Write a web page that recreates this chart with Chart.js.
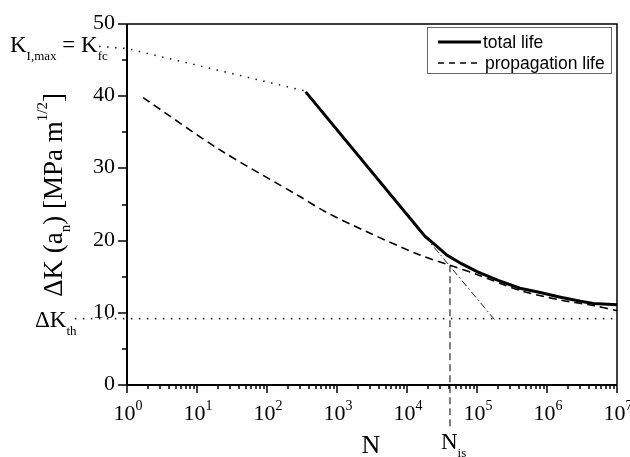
<!DOCTYPE html>
<html>
<head>
<meta charset="utf-8">
<script src="https://cdn.jsdelivr.net/npm/chart.js@4"></script>
<style>
  html, body { margin: 0; padding: 0; background: #fff; }
  canvas { display: block; }
</style>
</head>
<body>
<canvas id="cnvLife" width="630" height="457"></canvas>
<script>
// curves: N (cycles) and delta K [MPa m^1/2]
const totalN = [357, 18000, 26000, 37000, 60000, 100000, 200000, 410000, 800000, 1500000, 3000000, 4600000, 10000000]
const totalK = [40.6, 20.6, 19.3, 18.0, 16.8, 15.7, 14.5, 13.4, 12.8, 12.2, 11.6, 11.3, 11.1]

const propN = [1.7, 21, 295, 680, 2630, 15300, 41100, 100000, 410000, 1500000, 4600000, 10000000]
const propK = [39.8, 32.6, 26.1, 24.0, 21.25, 18.0, 16.6, 15.3, 13.1, 11.8, 11.0, 10.3]

// K_I,max = K_fc line, threshold line, extension of the steep part, N_is marker
const kmaxN = [0.4, 1, 357]
const kmaxK = [46.9, 46.6, 40.7]
const thN = [0.18, 10000000]
const thK = [9.2, 9.2]
const steepN = [18000, 180000]
const steepK = [20.6, 9.0]
const nisN = [41100, 41100]
const nisK = [16.6, -5.9]

const xTickExps = [0, 1, 2, 3, 4, 5, 6, 7]
const yTicks = [0, 10, 20, 30, 40, 50]
const yMinor = [5, 15, 25, 35, 45]

const serif = '"Liberation Serif", "Times New Roman", serif'
const sans = '"Liberation Sans", Arial, sans-serif'

function pts(xs, ys){
    return xs.map((x, i) => ({x: x, y: ys[i]}))
}

// draws text made of pieces [text, font, dy]
function rich(ctx, parts, x, y, align){
    let w = 0
    parts.forEach(p => { ctx.font = p[1]; w += ctx.measureText(p[0]).width })
    let cx = x
    if(align == 'center') cx = x - w / 2
    if(align == 'right') cx = x - w
    parts.forEach(p => {
        ctx.font = p[1]
        ctx.fillText(p[0], cx, y + (p[2] || 0))
        cx += ctx.measureText(p[0]).width
    })
}

const framePlugin = {
    id: 'frame',
    afterDatasetsDraw(chart){
        const ctx = chart.ctx
        const a = chart.chartArea
        const xs = chart.scales.x
        const ys = chart.scales.y
        ctx.save()
        ctx.strokeStyle = '#000'
        ctx.fillStyle = '#000'
        ctx.setLineDash([])

        // top and right border
        ctx.lineWidth = 1.5
        ctx.beginPath()
        ctx.moveTo(a.left, a.top); ctx.lineTo(a.right, a.top); ctx.lineTo(a.right, a.bottom)
        ctx.stroke()
        // axes
        ctx.lineWidth = 2
        ctx.beginPath()
        ctx.moveTo(a.left, a.top); ctx.lineTo(a.left, a.bottom); ctx.lineTo(a.right, a.bottom)
        ctx.stroke()

        // y ticks
        ctx.lineWidth = 1.5
        ctx.textAlign = 'left'
        ctx.textBaseline = 'alphabetic'
        yTicks.forEach(v => {
            let y = Math.round(ys.getPixelForValue(v))
            ctx.beginPath(); ctx.moveTo(a.left - 9, y); ctx.lineTo(a.left, y); ctx.stroke()
            rich(ctx, [[String(v), '22px ' + serif]], a.left - 12, y + 5, 'right')
        })
        yMinor.forEach(v => {
            let y = Math.round(ys.getPixelForValue(v))
            ctx.beginPath(); ctx.moveTo(a.left - 5, y); ctx.lineTo(a.left, y); ctx.stroke()
        })

        // x ticks, decades and minor ones
        xTickExps.forEach(e => {
            let x = Math.round(xs.getPixelForValue(Math.pow(10, e)))
            ctx.beginPath(); ctx.moveTo(x, a.bottom); ctx.lineTo(x, a.bottom + 8); ctx.stroke()
            rich(ctx, [['10', '22px ' + serif], [String(e), '14px ' + serif, -10]], x + 1, a.bottom + 35, 'center')
            if(e < 7){
                for(let m = 2; m < 10; m++){
                    let xm = Math.round(xs.getPixelForValue(m * Math.pow(10, e)))
                    ctx.beginPath(); ctx.moveTo(xm, a.bottom); ctx.lineTo(xm, a.bottom + 4); ctx.stroke()
                }
            }
        })

        // axis titles
        rich(ctx, [['N', '26px ' + serif]], 371, 453, 'center')
        ctx.save()
        ctx.translate(62, 195)
        ctx.rotate(-Math.PI / 2)
        rich(ctx, [
            ['\u0394K (a', '27px ' + serif],
            ['n', '15px ' + serif, 8],
            [') [MPa m', '27px ' + serif],
            ['1/2', '15px ' + serif, -15],
            [']', '27px ' + serif]
        ], 0, 0, 'center')
        ctx.restore()

        // annotations
        rich(ctx, [
            ['K', '23px ' + serif], ['I,max', '13px ' + serif, 8],
            [' = K', '23px ' + serif], ['fc', '13px ' + serif, 8]
        ], 10, 52, 'left')
        rich(ctx, [['\u0394K', '23px ' + serif], ['th', '13px ' + serif, 8]], 35, 327, 'left')
        rich(ctx, [['N', '23px ' + serif], ['is', '13px ' + serif, 8]], 441, 449, 'left')

        // legend box
        ctx.lineWidth = 1
        ctx.strokeStyle = '#666'
        ctx.strokeRect(427.5, 27.5, 184, 46)
        ctx.strokeStyle = '#000'
        ctx.lineWidth = 3
        ctx.beginPath(); ctx.moveTo(438, 42); ctx.lineTo(481, 42); ctx.stroke()
        ctx.lineWidth = 1.5
        ctx.setLineDash([6, 5])
        ctx.beginPath(); ctx.moveTo(438, 63); ctx.lineTo(481, 63); ctx.stroke()
        ctx.setLineDash([])
        ctx.font = '17.5px ' + sans
        ctx.fillText('total life', 483, 48)
        ctx.fillText('propagation life', 485, 69)
        ctx.restore()
    }
}

let ctx = document.getElementById('cnvLife').getContext('2d')
let chart = new Chart(ctx, {
    type: 'line',
    data: {
        datasets: [
            {
                label: 'total life',
                data: pts(totalN, totalK),
                borderColor: '#000',
                borderWidth: 3,
                pointRadius: 0
            },
            {
                label: 'propagation life',
                data: pts(propN, propK),
                borderColor: '#000',
                borderWidth: 1.6,
                borderDash: [8, 5],
                tension: 0.3,
                pointRadius: 0
            },
            {
                label: 'K_I,max = K_fc',
                data: pts(kmaxN, kmaxK),
                borderColor: '#222',
                borderWidth: 1.6,
                borderDash: [1.5, 6.5],
                pointRadius: 0,
                clip: false
            },
            {
                label: 'dK_th',
                data: pts(thN, thK),
                borderColor: '#222',
                borderWidth: 1.6,
                borderDash: [1.5, 6.5],
                pointRadius: 0,
                clip: false
            },
            {
                label: 'extension',
                data: pts(steepN, steepK),
                borderColor: '#222',
                borderWidth: 1,
                borderDash: [7, 3, 1.5, 3],
                pointRadius: 0
            },
            {
                label: 'N_is',
                data: pts(nisN, nisK),
                borderColor: '#555',
                borderWidth: 1.5,
                borderDash: [7, 4],
                pointRadius: 0,
                clip: false
            }
        ]
    },
    options: {
        responsive: false,
        animation: false,
        devicePixelRatio: 1,
        layout: { padding: { top: 24, right: 13, left: 0, bottom: 0 } },
        plugins: { legend: { display: false }, tooltip: { enabled: false } },
        scales: {
            x: {
                type: 'logarithmic',
                min: 1,
                max: 10000000,
                ticks: { display: false },
                grid: { display: false },
                border: { display: false },
                afterFit(s){ s.height = 72 }
            },
            y: {
                min: 0,
                max: 50,
                ticks: { display: false },
                grid: { display: false },
                border: { display: false },
                afterFit(s){ s.width = 127 }
            }
        }
    },
    plugins: [framePlugin]
})
</script>
</body>
</html>
